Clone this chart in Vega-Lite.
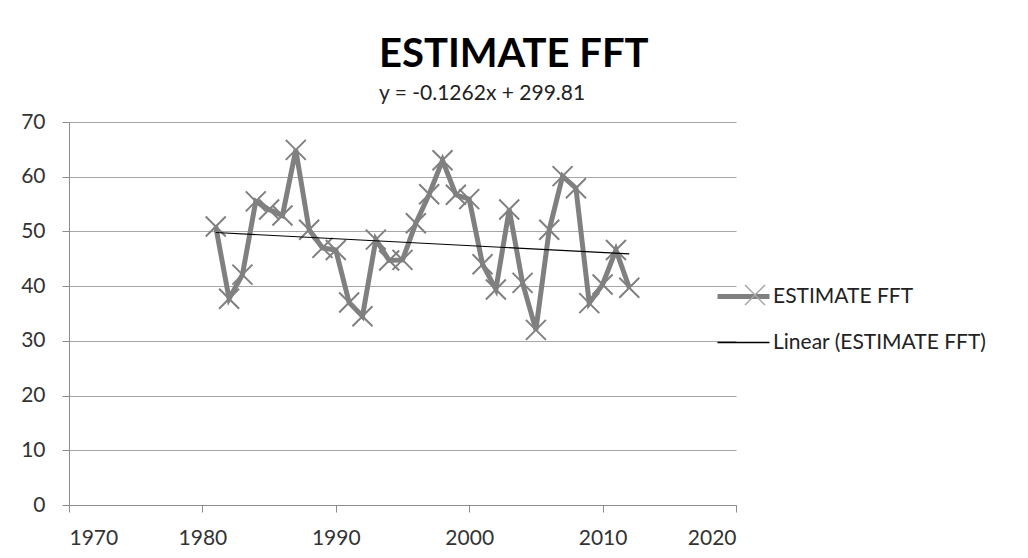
{
  "$schema": "https://vega.github.io/schema/vega-lite/v6.json",
  "width": 667,
  "height": 383,
  "autosize": {"type": "none"},
  "padding": {"left": 69, "top": 122, "right": 292, "bottom": 53},
  "background": "white",
  "config": {"font": "Lato", "view": {"stroke": null}},
  "title": {
    "text": "ESTIMATE FFT",
    "subtitle": "y = -0.1262x + 299.81",
    "anchor": "start",
    "frame": "group",
    "dx": 310,
    "offset": 7,
    "font": "Lato",
    "fontSize": 40,
    "fontWeight": "bold",
    "color": "#000000",
    "subtitleFont": "Lato",
    "subtitleFontSize": 21,
    "subtitleColor": "#222222",
    "subtitlePadding": 8
  },
  "datasets": {
    "est": [
      {"year": 1981, "value": 50.9, "series": "ESTIMATE FFT"},
      {"year": 1982, "value": 37.7, "series": "ESTIMATE FFT"},
      {"year": 1983, "value": 42.1, "series": "ESTIMATE FFT"},
      {"year": 1984, "value": 55.5, "series": "ESTIMATE FFT"},
      {"year": 1985, "value": 54.0, "series": "ESTIMATE FFT"},
      {"year": 1986, "value": 52.9, "series": "ESTIMATE FFT"},
      {"year": 1987, "value": 64.9, "series": "ESTIMATE FFT"},
      {"year": 1988, "value": 50.3, "series": "ESTIMATE FFT"},
      {"year": 1989, "value": 47.0, "series": "ESTIMATE FFT"},
      {"year": 1990, "value": 46.6, "series": "ESTIMATE FFT"},
      {"year": 1991, "value": 37.0, "series": "ESTIMATE FFT"},
      {"year": 1992, "value": 34.5, "series": "ESTIMATE FFT"},
      {"year": 1993, "value": 48.5, "series": "ESTIMATE FFT"},
      {"year": 1994, "value": 44.7, "series": "ESTIMATE FFT"},
      {"year": 1995, "value": 44.8, "series": "ESTIMATE FFT"},
      {"year": 1996, "value": 51.5, "series": "ESTIMATE FFT"},
      {"year": 1997, "value": 56.8, "series": "ESTIMATE FFT"},
      {"year": 1998, "value": 63.0, "series": "ESTIMATE FFT"},
      {"year": 1999, "value": 56.7, "series": "ESTIMATE FFT"},
      {"year": 2000, "value": 55.9, "series": "ESTIMATE FFT"},
      {"year": 2001, "value": 44.0, "series": "ESTIMATE FFT"},
      {"year": 2002, "value": 39.4, "series": "ESTIMATE FFT"},
      {"year": 2003, "value": 54.0, "series": "ESTIMATE FFT"},
      {"year": 2004, "value": 40.6, "series": "ESTIMATE FFT"},
      {"year": 2005, "value": 32.0, "series": "ESTIMATE FFT"},
      {"year": 2006, "value": 50.3, "series": "ESTIMATE FFT"},
      {"year": 2007, "value": 60.1, "series": "ESTIMATE FFT"},
      {"year": 2008, "value": 57.9, "series": "ESTIMATE FFT"},
      {"year": 2009, "value": 36.9, "series": "ESTIMATE FFT"},
      {"year": 2010, "value": 40.3, "series": "ESTIMATE FFT"},
      {"year": 2011, "value": 46.6, "series": "ESTIMATE FFT"},
      {"year": 2012, "value": 39.7, "series": "ESTIMATE FFT"}
    ],
    "trend": [
      {"year": 1981, "value": 49.80, "series": "Linear (ESTIMATE FFT)"},
      {"year": 2012, "value": 45.89, "series": "Linear (ESTIMATE FFT)"}
    ]
  },
  "encoding": {
    "x": {
      "field": "year",
      "type": "quantitative",
      "scale": {"domain": [1970, 2020], "nice": false, "zero": false},
      "axis": {
        "title": null,
        "values": [1970, 1980, 1990, 2000, 2010, 2020],
        "format": "d",
        "grid": false,
        "domainColor": "#8c8c8c",
        "tickColor": "#8c8c8c",
        "tickSize": 7,
        "labelFont": "Lato",
        "labelFontSize": 21,
        "labelColor": "#333333",
        "labelPadding": 15
      }
    },
    "y": {
      "field": "value",
      "type": "quantitative",
      "scale": {"domain": [0, 70], "nice": false},
      "axis": {
        "title": null,
        "values": [0, 10, 20, 30, 40, 50, 60, 70],
        "grid": true,
        "gridColor": "#a6a6a6",
        "domainColor": "#8c8c8c",
        "tickColor": "#8c8c8c",
        "tickSize": 7,
        "labelFont": "Lato",
        "labelFontSize": 21,
        "labelColor": "#333333",
        "labelPadding": 17
      }
    }
  },
  "layer": [
    {
      "data": {"name": "est"},
      "mark": {"type": "line", "strokeWidth": 5},
      "encoding": {
        "color": {
          "field": "series",
          "type": "nominal",
          "scale": {"domain": ["ESTIMATE FFT", "Linear (ESTIMATE FFT)"], "range": ["#808080", "#000000"]},
          "legend": {
            "title": null,
            "orient": "none",
            "legendX": 664,
            "legendY": 164,
            "padding": 0,
            "symbolType": "stroke",
            "symbolSize": 2704,
            "symbolStrokeWidth": 1.5,
            "rowPadding": 24,
            "labelOffset": 19,
            "labelLimit": 400,
            "labelFont": "Lato",
            "labelFontSize": 21,
            "labelColor": "#222222",
            "encode": {
              "symbols": {"update": {"strokeWidth": {"signal": "datum.value === 'ESTIMATE FFT' ? 5 : 1.5"}}}
            }
          }
        }
      }
    },
    {
      "data": {"name": "est"},
      "mark": {"type": "point", "size": 400, "strokeWidth": 2, "color": "#808080", "filled": false, "opacity": 1},
      "encoding": {
        "shape": {
          "datum": "ESTIMATE FFT",
          "scale": {"domain": ["ESTIMATE FFT"], "range": ["M-1,-1L1,1M-1,1L1,-1"]},
          "legend": {
            "title": null,
            "orient": "none",
            "legendX": 675,
            "legendY": 162,
            "padding": 0,
            "symbolSize": 400,
            "symbolStrokeColor": "#a6a6a6",
            "symbolStrokeWidth": 1.5,
            "symbolFillColor": "transparent",
            "labelExpr": "''",
            "labelFontSize": 21
          }
        }
      }
    },
    {
      "data": {"name": "trend"},
      "mark": {"type": "line", "strokeWidth": 1.2},
      "encoding": {
        "color": {"field": "series", "type": "nominal"}
      }
    }
  ]
}
